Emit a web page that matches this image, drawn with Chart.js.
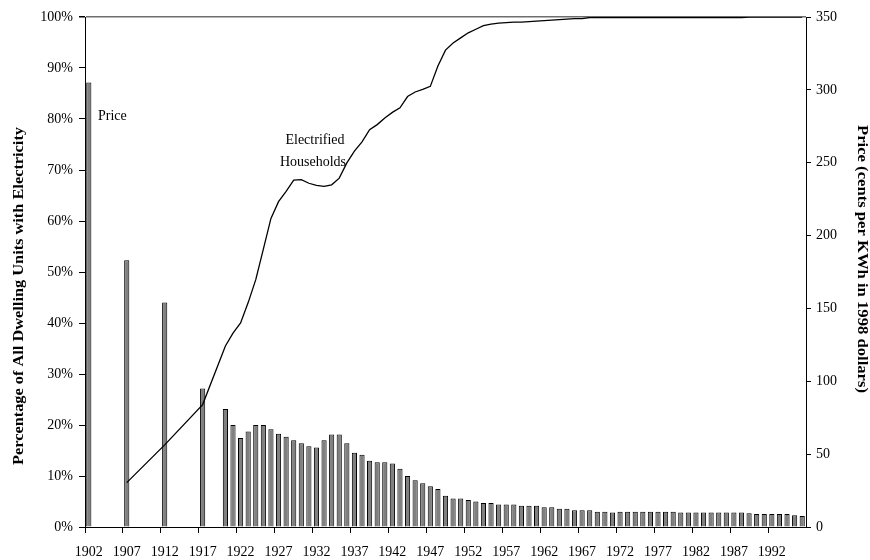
<!DOCTYPE html>
<html>
<head>
<meta charset="utf-8">
<script src="https://cdn.jsdelivr.net/npm/chart.js@4.4.1/dist/chart.umd.min.js"></script>
<style>
  html, body { margin: 0; padding: 0; background: #fff; }
  #wrap { width: 870px; height: 560px; position: relative; }
</style>
</head>
<body>
<div id="wrap"><canvas id="c" width="870" height="560"></canvas></div>
<script>
// ---- Data ----
const startYear = 1902;
const endYear = 1996;
const years = [];
for (let y = startYear; y <= endYear; y++) years.push(String(y));

// Price, cents per kWh in 1998 dollars (right axis); null = no observation
const price = [
  305, null, null, null, null,            // 1902-1906
  183, null, null, null, null,            // 1907-1911
  154, null, null, null, null,            // 1912-1916
  95, null, null,                         // 1917-1919
  81, 70, 61, 65.5, 70, 70, 67, 64, 62, 59.5,        // 1920-1929
  57.5, 55.5, 54.5, 59.5, 63.5, 63.5, 57.5, 51, 49.5, 45.5, // 1930-1939
  44.5, 44.5, 43.5, 40, 35, 32, 30, 28, 26, 21.5,   // 1940-1949
  19.5, 19.5, 18.5, 17.5, 16.5, 16.5, 15.5, 15.5, 15.5, 14.5, // 1950-1959
  14.5, 14.5, 13.5, 13.5, 12.5, 12.5, 11.5, 11.5, 11.5, 10.5, // 1960-1969
  10.5, 10, 10.5, 10.5, 10.5, 10.5, 10.5, 10.5, 10.5, 10.5,   // 1970-1979
  10, 10, 10, 10, 10, 10, 10, 10, 10, 9.5,          // 1980-1989
  9, 9, 9, 9, 9, 8, 7.5                             // 1990-1996
];

// Electrified households, % of all dwelling units (left axis)
const electrified = [
  null, null, null, null, null,           // 1902-1906
  8.7, null, null, null, null,            // 1907-1911
  16.1, null, null, null, null,           // 1912-1916
  24, null, null,                         // 1917-1919
  35.5, 38, 40, 44, 48.5, 54.5, 60.5, 63.8, 65.8, 68,   // 1920-1929
  68.1, 67.4, 67, 66.8, 67.1, 68.4, 71.4, 73.7, 75.5, 77.9, // 1930-1939
  78.9, 80.2, 81.3, 82.2, 84.4, 85.3, 85.8, 86.4, 90.4, 93.5, // 1940-1949
  94.9, 95.9, 96.9, 97.6, 98.3, 98.6, 98.8, 98.9, 99.0, 99.0, // 1950-1959
  99.1, 99.2, 99.3, 99.4, 99.5, 99.6, 99.7, 99.7, 99.9, 99.9, // 1960-1969
  99.9, 99.9, 99.9, 99.9, 99.9, 99.9, 99.9, 99.9, 99.9, 99.9, // 1970-1979
  99.9, 99.9, 99.9, 99.9, 99.9, 99.9, 99.9, 99.9, 99.9, 100,  // 1980-1989
  100, 100, 100, 100, 100, 100, 100                   // 1990-1996
];

const leftTitle = 'Percentage of All Dwelling Units with Electricity';
const rightTitle = 'Price (cents per KWh in 1998 dollars)';
const priceLabel = 'Price';
const householdsLabel = ['Electrified', 'Households'];

// ---- Chart ----
const FONT = 'Liberation Serif, Times New Roman, serif';

function drawStretched(ctx, text, cx, cy, angle, targetLen) {
  ctx.save();
  ctx.translate(cx, cy);
  ctx.rotate(angle);
  const w = ctx.measureText(text).width;
  ctx.scale(targetLen / w, 1);
  ctx.fillText(text, 0, 0);
  ctx.restore();
}

const textPlugin = {
  id: 'textPlugin',
  afterDraw(chart) {
    const ctx = chart.ctx;
    ctx.save();
    ctx.fillStyle = '#000';
    ctx.font = 'bold 14px ' + FONT;
    ctx.textAlign = 'center';
    ctx.textBaseline = 'middle';
    drawStretched(ctx, leftTitle, 19, 296, -Math.PI / 2, 338);
    drawStretched(ctx, rightTitle, 862, 259, Math.PI / 2, 268);
    // annotations
    ctx.font = '14px ' + FONT;
    ctx.textAlign = 'left';
    ctx.fillText(priceLabel, 98, 116);
    ctx.textAlign = 'center';
    ctx.fillText(householdsLabel[0], 315, 140);
    ctx.fillText(householdsLabel[1], 313, 162);
    ctx.restore();
  }
};

new Chart(document.getElementById('c'), {
  type: 'bar',
  data: {
    labels: years,
    datasets: [
      {
        type: 'line',
        label: 'Electrified Households',
        data: electrified,
        yAxisID: 'yPct',
        borderColor: '#000',
        borderWidth: 1.3,
        pointRadius: 0,
        tension: 0,
        spanGaps: true,
        fill: false,
        order: 0
      },
      {
        type: 'bar',
        label: 'Price',
        data: price,
        yAxisID: 'yPrice',
        backgroundColor: '#808080',
        borderColor: '#000',
        borderWidth: 1,
        barPercentage: 0.68,
        categoryPercentage: 1.0,
        order: 1
      }
    ]
  },
  options: {
    responsive: false,
    animation: false,
    layout: { padding: { top: 17, left: 0, right: 0, bottom: 0 } },
    plugins: { legend: { display: false }, tooltip: { enabled: false } },
    scales: {
      x: {
        type: 'category',
        offset: true,
        grid: {
          offset: true,
          drawOnChartArea: false,
          drawTicks: true,
          tickLength: 6,
          color: (c) => (c.index % 5 === 0 ? '#000' : 'rgba(0,0,0,0)'),
          lineWidth: 1
        },
        border: { display: true, color: '#000', width: 1 },
        ticks: {
          autoSkip: false,
          maxRotation: 0,
          minRotation: 0,
          padding: 11,
          color: '#000',
          font: { family: FONT, size: 14 },
          callback: function (v, i) { return i % 5 === 0 ? this.getLabelForValue(v) : ''; }
        },
        afterFit: (s) => { s.height = 33; }
      },
      yPct: {
        type: 'linear',
        position: 'left',
        min: 0,
        max: 100,
        grid: {
          drawOnChartArea: true,
          drawTicks: true,
          tickLength: 6,
          color: (c) => (c.tick && c.tick.value === 100 ? '#6e6e6e' : 'rgba(0,0,0,0)'),
          lineWidth: (c) => (c.tick && c.tick.value === 100 ? 1.5 : 1),
          tickColor: '#000'
        },
        border: { display: true, color: '#000', width: 1 },
        ticks: {
          stepSize: 10,
          padding: 6,
          color: '#000',
          font: { family: FONT, size: 14 },
          callback: (v) => v + '%'
        },
        afterFit: (s) => { s.width = 85; }
      },
      yPrice: {
        type: 'linear',
        position: 'right',
        min: 0,
        max: 350,
        grid: {
          drawOnChartArea: false,
          drawTicks: true,
          tickLength: 5,
          color: '#000',
          tickColor: '#000'
        },
        border: { display: true, color: '#000', width: 1 },
        ticks: {
          stepSize: 50,
          padding: 5,
          color: '#000',
          font: { family: FONT, size: 14 }
        },
        afterFit: (s) => { s.width = 64; }
      }
    }
  },
  plugins: [textPlugin]
});
</script>
</body>
</html>
